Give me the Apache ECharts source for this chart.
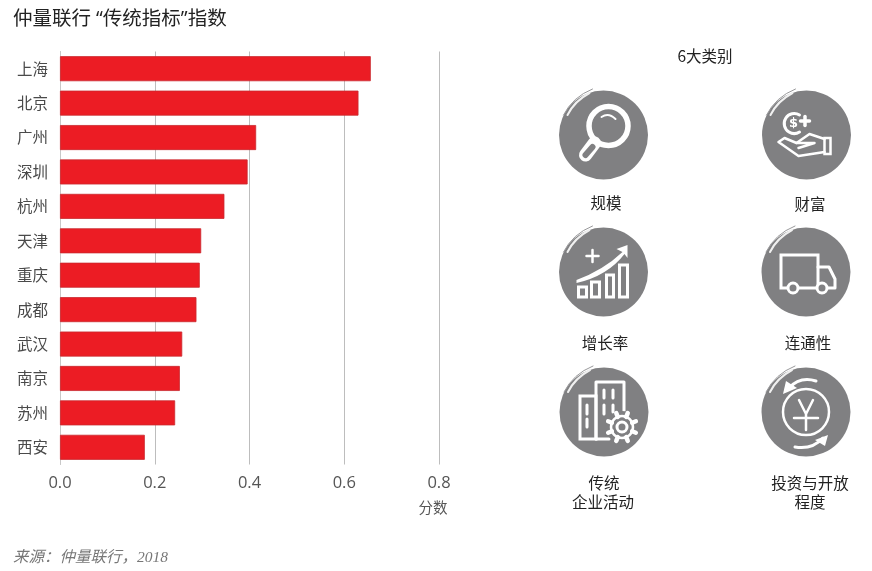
<!DOCTYPE html>
<html>
<head>
    <meta charset="UTF-8">
    <title>仲量联行 “传统指标”指数</title>
    <script src="https://cdn.jsdelivr.net/npm/echarts@6/dist/echarts.min.js"></script>
    <style>
        html, body { margin: 0; padding: 0; background: #fff; }
    </style>
</head>
<body>
<div id="main" style="width: 872px;height:571px;"></div>

<script type="text/javascript">
    // chart data
    var cities = ['上海', '北京', '广州', '深圳', '杭州', '天津', '重庆', '成都', '武汉', '南京', '苏州', '西安'];
    var scores = [0.656, 0.630, 0.414, 0.396, 0.347, 0.298, 0.295, 0.288, 0.258, 0.253, 0.243, 0.179];
    var xTicks = ['0.0', '0.2', '0.4', '0.6', '0.8'];

    var FONT = '"Noto Sans CJK SC", "Noto Sans", sans-serif';
    var GREY = '#808082';
    var WHITE = '#fff';

    // the graphic component has no plain path type, so each svg path gets registered as a shape
    var pathCount = 0;
    function pathShape(d) {
        var name = 'iconPath' + (pathCount++);
        echarts.graphic.registerShape(name, echarts.graphic.extendPath(d, {}));
        return name;
    }
    // stroke-only path, local coordinates of the icon
    function line(d, width, color) {
        return {
            type: pathShape(d),
            style: {fill: 'none', stroke: color || WHITE, lineWidth: width || 3, lineCap: 'round', lineJoin: 'round'}
        };
    }
    function solid(d) {
        return {type: pathShape(d), style: {fill: WHITE, stroke: 'none'}};
    }
    function ring(cx, cy, r, width, fill) {
        return {
            type: 'circle',
            shape: {cx: cx, cy: cy, r: r},
            style: {fill: fill || 'none', stroke: WHITE, lineWidth: width}
        };
    }
    function box(x, y, w, h, width) {
        return {
            type: 'rect',
            shape: {x: x, y: y, width: w, height: h},
            style: {fill: 'none', stroke: WHITE, lineWidth: width || 3}
        };
    }

    // round badge with the brush mark at the top left
    function badge(x, y, parts) {
        var base = [
            {type: 'circle', shape: {cx: 0, cy: 0, r: 44.5}, style: {fill: GREY}},
            line('M -40 -20 Q -31 -38 -11 -46', 1, '#9a9a9c'),
            line('M -36 -20 Q -29 -34 -14 -42', 2, '#f0f0f0')
        ];
        return {type: 'group', x: x, y: y, children: base.concat(parts)};
    }

    function gearTeeth(cx, cy) {
        var d = '';
        for (var i = 0; i < 8; i++) {
            var a = i * Math.PI / 4 + Math.PI / 8;
            d += 'M ' + (cx + 11 * Math.cos(a)) + ' ' + (cy + 11 * Math.sin(a)) +
                ' L ' + (cx + 15 * Math.cos(a)) + ' ' + (cy + 15 * Math.sin(a)) + ' ';
        }
        return d;
    }

    var iconSearch = [
        ring(5, -9, 19.5, 5.5),
        line('M -9 8 L -18 20', 13),
        line('M -11 12 L -18 20', 6, GREY),
        line('M -2 -18 Q 5 -23 12 -16', 2)
    ];
    var iconWealth = [
        line('M -7 -20 A 10 10 0 1 0 -7 -3', 3),
        {type: 'text', x: -13, y: -11, style: {text: '$', fill: WHITE, font: 'bold 13px "DejaVu Sans"', align: 'center', verticalAlign: 'middle'}},
        line('M -6 -14 H 3', 3.5),
        line('M -1.5 -18.5 V -9.5', 3.5),
        line('M 18 4 L 3 -1 L -10 8 L -22 3 L -28 7 L -8 21 L 18 17', 2.5),
        line('M -10 8 L 8 8 L -8 13', 2.5),
        box(18, 3, 6, 16, 2.5)
    ];
    var iconGrowth = [
        box(-25, 15, 8, 10),
        box(-12, 10, 8, 15),
        box(3, 3, 7, 22),
        box(16, -7, 8, 32),
        solid('M -27 8 Q 0 -2 19 -20 L 13 -23 L 24 -27 L 24 -14 L 21 -18 Q 4 4 -27 11 Z'),
        line('M -17 -16 H -5', 2.5),
        line('M -11 -22 V -10', 2.5)
    ];
    var iconTruck = [
        box(-25, -17, 37, 33),
        line('M 12 -5 L 23 -5 L 29 7 L 29 16 L 12 16', 3),
        ring(-13, 16, 5, 3, GREY),
        ring(16, 16, 5, 3, GREY)
    ];
    var iconBuilding = [
        box(-24, -16, 16, 43),
        line('M -8 27 L -8 -30 L 20 -30 L 20 3', 3),
        line('M -8 27 L 5 27', 3),
        line('M -17 -7 V 2 M -17 7 V 15 M 0 -22 V -14 M 9 -22 V -14 M 0 -7 V 2 M 9 -7 V 0', 3),
        {type: 'circle', shape: {cx: 18, cy: 15, r: 16}, style: {fill: GREY}},
        ring(18, 15, 11, 2.5),
        ring(18, 15, 5, 3),
        line(gearTeeth(18, 15), 4.5)
    ];
    var iconYuan = [
        ring(0, 0, 23, 2.5),
        line('M -7 -12 L 0 2 L 7 -12 M 0 2 V 18 M -12 6 H 12', 2.5),
        line('M 10 -31 Q -6 -36 -17 -24', 3),
        solid('M -23 -18 L -20 -31 L -9 -24 Z'),
        line('M -11 35 Q 6 38 17 26', 3),
        solid('M 22 23 L 19 34 L 9 28 Z')
    ];

    function label(text, x, y) {
        return {
            type: 'text', x: x, y: y,
            style: {text: text, fill: '#222', font: '15.5px ' + FONT, align: 'center', verticalAlign: 'middle'}
        };
    }

    var myChart = echarts.init(document.getElementById('main'), null, {renderer: 'canvas'});

    var option = {
        animation: false,
        backgroundColor: '#fff',
        title: {
            text: '仲量联行 “传统指标”指数',
            left: 8,
            top: 5,
            textStyle: {fontFamily: '"Open Sans", "Noto Sans CJK SC", sans-serif', fontSize: 19.5, fontWeight: 'normal', color: '#222'}
        },
        grid: {left: 60, top: 51.5, width: 379, height: 413, containLabel: false},
        xAxis: {
            type: 'value',
            min: 0,
            max: 0.8,
            interval: 0.2,
            axisLine: {show: false},
            axisTick: {show: false},
            splitLine: {lineStyle: {color: '#bdbdbd', width: 1}},
            axisLabel: {
                margin: 10,
                color: '#555',
                fontSize: 16.5,
                fontFamily: '"Open Sans", sans-serif',
                formatter: function (v) { return xTicks[Math.round(v / 0.2)]; }
            },
            name: '分数',
            nameLocation: 'end',
            nameGap: -6,
            nameTextStyle: {color: '#555', fontSize: 14.5, fontFamily: FONT, align: 'center', verticalAlign: 'top', padding: [36, 0, 0, 0]}
        },
        yAxis: {
            type: 'category',
            inverse: true,
            data: cities,
            axisLine: {lineStyle: {color: '#c8c8c8', width: 1}},
            axisTick: {show: false},
            axisLabel: {margin: 12, color: '#4a4a4a', fontSize: 15.5, fontFamily: FONT}
        },
        series: [
            {
                name: '分数',
                type: 'bar',
                data: scores,
                barWidth: 25,
                itemStyle: {color: '#ec1c24', borderColor: '#c9282e', borderWidth: 0.8}
            }
        ],
        graphic: [
            label('6大类别', 705, 56),
            badge(603.5, 135, iconSearch),
            badge(806.5, 135, iconWealth),
            badge(603.5, 272, iconGrowth),
            badge(806, 272, iconTruck),
            badge(604, 412, iconBuilding),
            badge(806, 412, iconYuan),
            label('规模', 606, 203),
            label('财富', 810, 204),
            label('增长率', 605, 343),
            label('连通性', 808, 343),
            label('传统', 604, 483),
            label('企业活动', 603, 502),
            label('投资与开放', 810, 483),
            label('程度', 810, 502),
            {
                type: 'text', x: 13, y: 558,
                style: {
                    text: '来源：仲量联行，2018',
                    fill: '#777',
                    font: 'italic 15.5px "Liberation Serif", "Noto Sans CJK SC", serif',
                    verticalAlign: 'middle'
                }
            }
        ]
    };

    myChart.setOption(option);
</script>
</body>
</html>
